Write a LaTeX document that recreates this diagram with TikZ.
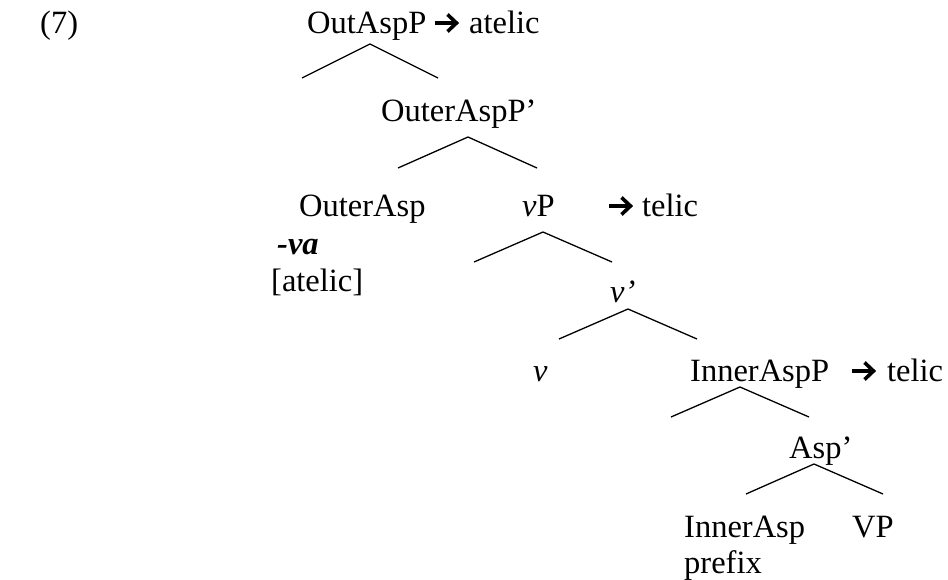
\documentclass[tikz,border=0pt]{standalone}
\usepackage{fontspec}
\setmainfont{Liberation Serif}
\begin{document}
\begin{tikzpicture}[x=1pt,y=-1pt,
  lbl/.style={inner sep=0pt, anchor=base west, font=\fontsize{32.5}{38}\selectfont},
  branch/.style={line width=1.3pt, line join=miter},
  % heavy rightwards arrow with an open chevron head; the pic origin is the
  % left end of the shaft
  thickarr/.pic={
    \draw[line width=3.6pt] (0,0) -- (21,0);
    \draw[line width=3.6pt, line join=miter, miter limit=4] (12.5,-8.5) -- (21.5,0) -- (12.5,8.5);
  }]
\useasboundingbox (0,0) rectangle (948,579);

% labels of the tree
\node[lbl] (ex)      at (40,33)   {(7)};
\node[lbl] (root)    at (307,33)  {OutAspP};
\pic at (435,23) {thickarr};
\node[lbl] (roottel) at (469,33)  {atelic};
\node[lbl] (outbar)  at (381,121) {OuterAspP’};
\node[lbl] (outhead) at (299,216) {OuterAsp};
\node[lbl] (vp)      at (522,216) {\textit{v}P};
\pic at (609,206) {thickarr};
\node[lbl] (vptel)   at (642,216) {telic};
\node[lbl] (va)      at (277,254) {\textbf{\textit{-va}}};
\node[lbl] (atelic)  at (271,291) {[atelic]};
\node[lbl] (vbar)    at (610,302) {\textit{v’}};
\node[lbl] (vhead)   at (533,381) {\textit{v}};
\node[lbl] (inp)     at (690,381) {InnerAspP};
\pic at (852,371) {thickarr};
\node[lbl] (inptel)  at (887,381) {telic};
\node[lbl] (aspbar)  at (789,458) {Asp’};
\node[lbl] (inhead)  at (684,537) {InnerAsp};
\node[lbl] (vpc)     at (852,537) {VP};
\node[lbl] (prefix)  at (684,573) {prefix};

% branching points: apex and the two feet of each fork
\coordinate (a1) at (370,44);  \coordinate (l1) at (302,78);  \coordinate (r1) at (438,78);
\coordinate (a2) at (468,137); \coordinate (l2) at (398,168); \coordinate (r2) at (537,168);
\coordinate (a3) at (543,232); \coordinate (l3) at (474,262); \coordinate (r3) at (612,262);
\coordinate (a4) at (628,309); \coordinate (l4) at (559,339); \coordinate (r4) at (697,339);
\coordinate (a5) at (740,387); \coordinate (l5) at (671,417); \coordinate (r5) at (809,417);
\coordinate (a6) at (814,464); \coordinate (l6) at (746,494); \coordinate (r6) at (883,494);

\foreach \i in {1,...,6}
  \draw[branch] (l\i) -- (a\i) -- (r\i);
\end{tikzpicture}
\end{document}
